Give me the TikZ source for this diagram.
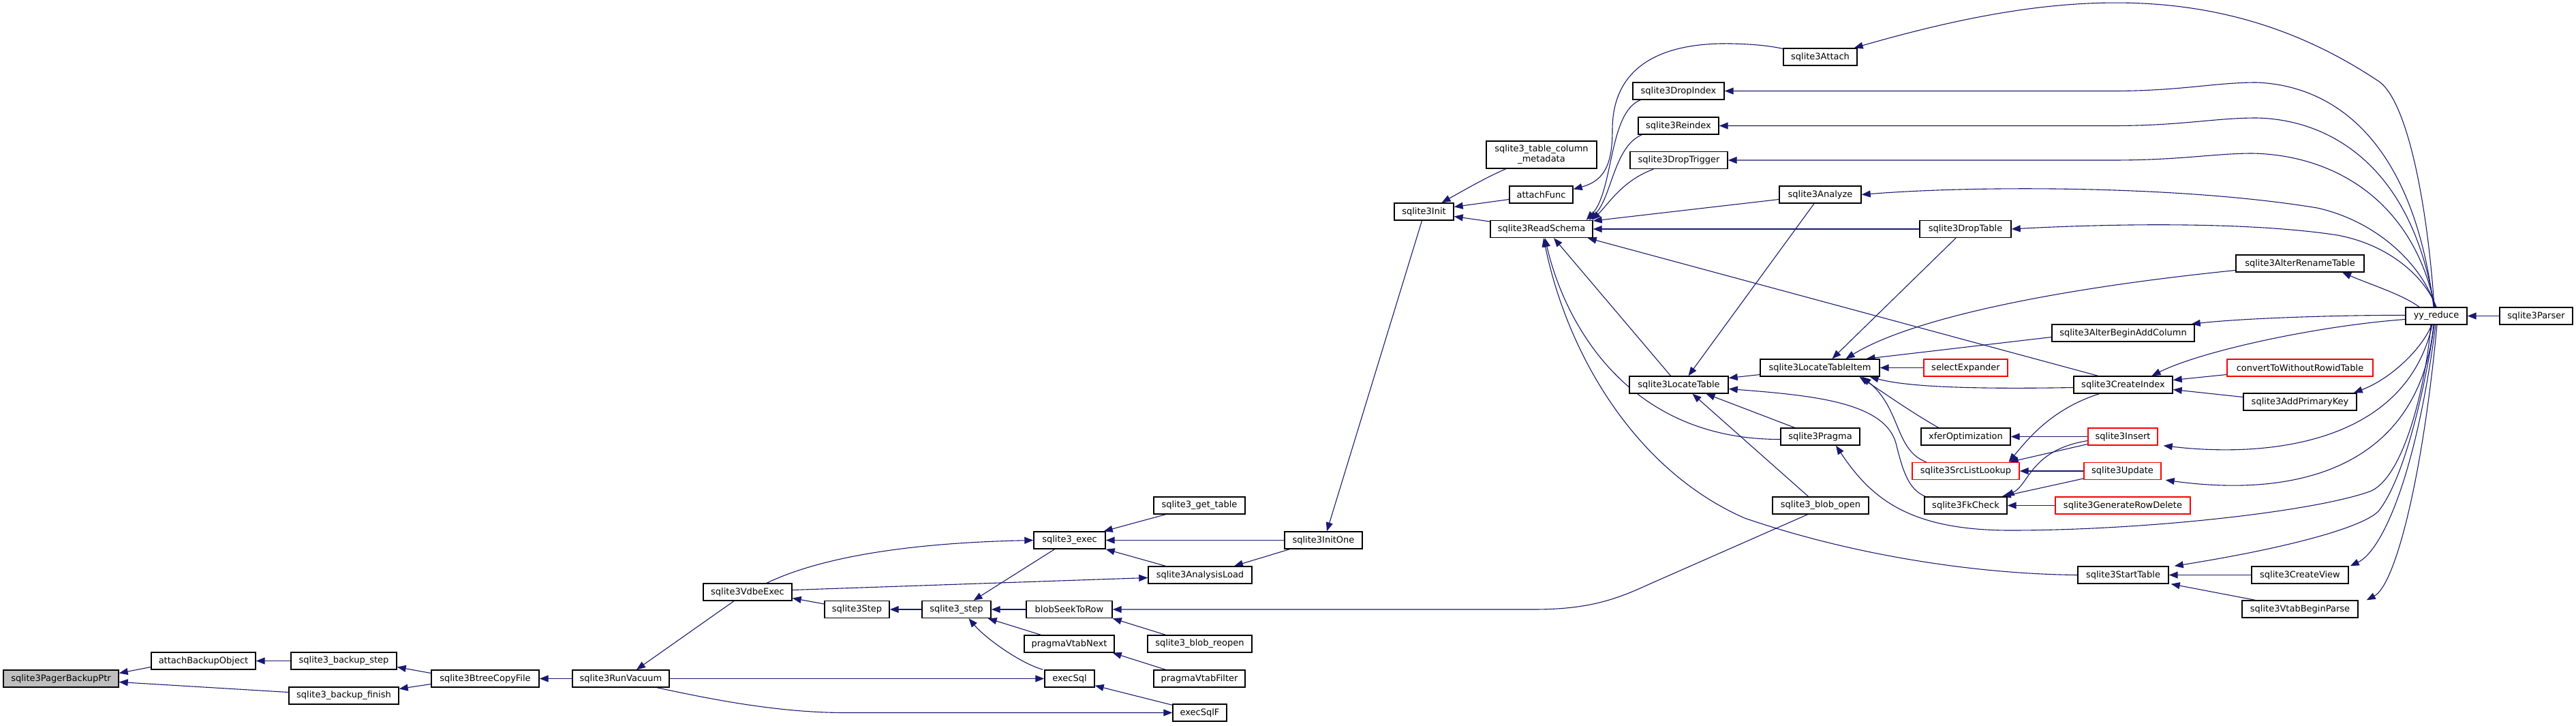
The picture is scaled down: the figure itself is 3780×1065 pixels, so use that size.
\documentclass[tikz,border=0pt]{standalone}
\usepackage{fontspec}
\setmainfont{DejaVu Sans}
\usetikzlibrary{arrows.meta}
\definecolor{edgecol}{HTML}{191970}
\definecolor{redb}{HTML}{FF0000}
\definecolor{grayf}{HTML}{BFBFBF}
\pgfdeclarelayer{bg}
\pgfsetlayers{bg,main}
\tikzset{
  fn/.style={draw=black, fill=white, line width=1.4pt, minimum height=25pt, inner sep=0pt, text=black},
  rn/.style={fn, draw=redb},
  gn/.style={fn, fill=grayf},
  e/.style={draw=edgecol, line width=1.1pt, {Triangle[length=13pt,width=10pt]}-}
}
\begin{document}
\begin{tikzpicture}[x=1pt,y=-1pt,font=\fontsize{13}{15}\selectfont]
\useasboundingbox (0,0) rectangle (3780,1065);
% nodes
\node[gn, minimum width=169pt] (pbp) at (89.5,995.5) {sqlite3PagerBackupPtr};
\node[fn, minimum width=153pt] (abo) at (298.5,969.5) {attachBackupObject};
\node[fn, minimum width=155pt] (bstep) at (504.5,969.5) {sqlite3\_backup\_step};
\node[fn, minimum width=161pt] (bfin) at (504.5,1020.5) {sqlite3\_backup\_finish};
\node[fn, minimum width=158pt] (bcf) at (712,995.5) {sqlite3BtreeCopyFile};
\node[fn, minimum width=142pt] (rv) at (911,995.5) {sqlite3RunVacuum};
\node[fn, minimum width=130pt] (vdbe) at (1097,868.5) {sqlite3VdbeExec};
\node[fn, minimum width=95pt] (step3) at (1257.5,894) {sqlite3Step};
\node[fn, minimum width=101pt] (s3step) at (1403.5,894) {sqlite3\_step};
\node[fn, minimum width=105pt] (exec) at (1569.5,792.5) {sqlite3\_exec};
\node[fn, minimum width=134pt] (gt) at (1760,741.5) {sqlite3\_get\_table};
\node[fn, minimum width=152pt] (al) at (1761,843.5) {sqlite3AnalysisLoad};
\node[fn, minimum width=126pt] (bstr) at (1569,894) {blobSeekToRow};
\node[fn, minimum width=132pt] (pvn) at (1569,944.5) {pragmaVtabNext};
\node[fn, minimum width=153pt] (bro) at (1760.5,944.5) {sqlite3\_blob\_reopen};
\node[fn, minimum width=134pt] (pvf) at (1760,995.5) {pragmaVtabFilter};
\node[fn, minimum width=73pt] (esql) at (1569.5,995.5) {execSql};
\node[fn, minimum width=79pt] (esqlf) at (1760.5,1045.5) {execSqlF};
\node[fn, minimum width=114pt] (initone) at (1942,792.5) {sqlite3InitOne};
\node[fn, minimum width=87pt] (init) at (2089.5,310.5) {sqlite3Init};
\node[fn, minimum width=162pt, minimum height=40pt, align=center] (meta) at (2262,227) {sqlite3\_table\_column\\\_metadata};
\node[fn, minimum width=93pt] (af) at (2261.5,285.5) {attachFunc};
\node[fn, minimum width=150pt] (rs) at (2262,336) {sqlite3ReadSchema};
\node[fn, minimum width=134pt] (di) at (2463,133.5) {sqlite3DropIndex};
\node[fn, minimum width=118pt] (ri) at (2463,184.5) {sqlite3Reindex};
\node[fn, minimum width=143pt] (dtr) at (2463.5,235) {sqlite3DropTrigger};
\node[fn, minimum width=108pt] (att) at (2671,83.5) {sqlite3Attach};
\node[fn, minimum width=120pt] (an) at (2671,285.5) {sqlite3Analyze};
\node[fn, minimum width=134pt] (dt) at (2884,336) {sqlite3DropTable};
\node[fn, minimum width=145pt] (lt) at (2463.5,564.5) {sqlite3LocateTable};
\node[fn, minimum width=175pt] (lti) at (2670.5,539.5) {sqlite3LocateTableItem};
\node[fn, minimum width=209pt] (aba) at (3115.5,488.5) {sqlite3AlterBeginAddColumn};
\node[rn, minimum width=123pt] (se) at (2884.5,539.5) {selectExpander};
\node[fn, minimum width=145pt] (ci) at (3115.5,564.5) {sqlite3CreateIndex};
\node[fn, minimum width=188pt] (art) at (3375,386.5) {sqlite3AlterRenameTable};
\node[rn, minimum width=214pt] (cwr) at (3375,539.5) {convertToWithoutRowidTable};
\node[fn, minimum width=166pt] (apk) at (3375,589.5) {sqlite3AddPrimaryKey};
\node[fn, minimum width=90pt] (yy) at (3575,463.5) {yy\_reduce};
\node[fn, minimum width=107pt] (parser) at (3721.5,463.5) {sqlite3Parser};
\node[fn, minimum width=116pt] (pr) at (2671,640.5) {sqlite3Pragma};
\node[fn, minimum width=131pt] (xo) at (2884.5,640.5) {xferOptimization};
\node[rn, minimum width=102pt] (ins) at (3115,640.5) {sqlite3Insert};
\node[rn, minimum width=157pt] (sll) at (2884.5,691) {sqlite3SrcListLookup};
\node[rn, minimum width=113pt] (upd) at (3114.5,691) {sqlite3Update};
\node[fn, minimum width=141pt] (bo) at (2671.5,741.5) {sqlite3\_blob\_open};
\node[fn, minimum width=121pt] (fk) at (2884.5,741.5) {sqlite3FkCheck};
\node[rn, minimum width=198pt] (grd) at (3115,741.5) {sqlite3GenerateRowDelete};
\node[fn, minimum width=133pt] (st) at (3115.5,843.5) {sqlite3StartTable};
\node[fn, minimum width=142pt] (cv) at (3375,843.5) {sqlite3CreateView};
\node[fn, minimum width=170pt] (vbp) at (3375,893.5) {sqlite3VtabBeginParse};
% edges
\begin{pgfonlayer}{bg}
\draw[e] ([yshift=8]pbp.east) -- ([yshift=-9]abo.west);
\draw[e] ([yshift=-5]pbp.east) -- ([yshift=5]bfin.west);
\draw[e] (abo.east) -- (bstep.west);
\draw[e] ([yshift=-9]bstep.east) -- ([yshift=8]bcf.west);
\draw[e] ([yshift=10]bfin.east) -- ([yshift=-8]bcf.west);
\draw[e] (bcf.east) -- (rv.west);
\draw[e] ([xshift=23]rv.north) -- ([xshift=-20]vdbe.south);
\draw[e] ([yshift=-9]vdbe.east) -- ([yshift=8]step3.west);
\draw[e] (step3.east) -- (s3step.west);
\draw[e] ([xshift=25]s3step.north) -- ([xshift=-22]exec.south);
\draw[e] (s3step.east) -- (bstr.west);
\draw[e] ([xshift=-5]s3step.south east) -- ([xshift=25]pvn.north west);
\draw[e] ([xshift=18]s3step.south) .. controls (1445,935) and (1495,972) .. ([xshift=-2]esql.north west);
\draw[e] (exec.west) .. controls (1400,795) and (1230,805) .. ([xshift=28]vdbe.north);
\draw[e] ([yshift=-4]al.west) -- ([yshift=3]vdbe.east);
\draw[e] (esql.west) -- (rv.east);
\draw[e] (esqlf.west) -- (1240,1045.5) .. controls (1140,1045.5) and (1040,1025) .. ([xshift=53]rv.south);
\draw[e] ([xshift=-3]exec.north east) -- ([xshift=18]gt.south west);
\draw[e] (exec.east) -- (initone.west);
\draw[e] (exec.south east) -- ([xshift=26]al.north west);
\draw[e] ([xshift=50]al.north) -- ([xshift=8]initone.south west);
\draw[e] (bstr.east) -- (2250,894) .. controls (2330,894) and (2370,880) .. (2420,857) -- ([xshift=-19]bo.south);
\draw[e] (bstr.south east) -- ([xshift=27]bro.north west);
\draw[e] ([xshift=-3]pvn.south east) -- ([xshift=18]pvf.north west);
\draw[e] ([yshift=3]esql.south east) -- ([yshift=-2]esqlf.north west);
\draw[e] ([xshift=5]initone.north) -- ([xshift=-3]init.south);
\draw[e] ([xshift=26]init.north) .. controls (2150,278) and (2185,258) .. ([xshift=-52]meta.south);
\draw[e] ([yshift=7]init.east) -- ([yshift=-7]af.west);
\draw[e] ([yshift=-7]init.east) -- ([yshift=11]rs.west);
\draw[e] ([yshift=8]af.east) .. controls (2355,265) and (2366,240) .. (2366,190) .. controls (2366,110) and (2420,62) .. (2540,64) .. controls (2580,65) and (2600,68) .. ([yshift=12]att.west);
\draw[e] ([xshift=-10]rs.north east) .. controls (2368,280) and (2360,165) .. ([xshift=12]di.south west);
\draw[e] ([xshift=-6]rs.north east) .. controls (2365,290) and (2368,215) .. ([xshift=6]ri.south west);
\draw[e] ([xshift=-2]rs.north east) .. controls (2360,300) and (2380,265) .. ([xshift=35]dtr.south west);
\draw[e] ([yshift=12]rs.east) -- ([yshift=-7]an.west);
\draw[e] (rs.east) -- (dt.west);
\draw[e] ([xshift=-8]rs.south east) -- ([xshift=-37]ci.north);
\draw[e] ([xshift=18]rs.south) -- ([xshift=-12]lt.north);
\draw[e] ([xshift=5]rs.south) .. controls (2295,470) and (2385,645) .. ([yshift=-4]pr.west);
\draw[e] ([xshift=3]rs.south) .. controls (2300,520) and (2400,690) .. (2560,760) .. controls (2720,815) and (2900,842) .. (st.west);
\draw[e] ([yshift=10]lt.east) -- ([yshift=-10]lti.west);
\draw[e] ([xshift=14]lt.north) -- ([xshift=-9]an.south);
\draw[e] ([xshift=40]lt.south) -- ([xshift=21]pr.north west);
\draw[e] ([xshift=20]lt.south) -- ([xshift=-18]bo.north);
\draw[e] ([yshift=-6]lt.east) .. controls (2660,580) and (2765,590) .. (2782,650) .. controls (2792,690) and (2800,718) .. ([xshift=2]fk.north west);
\draw[e] ([xshift=18]lti.north) -- ([xshift=-14]dt.south);
\draw[e] ([xshift=38]lti.north) .. controls (2800,470) and (3000,425) .. ([yshift=-10]art.west);
\draw[e] ([xshift=68]lti.north) -- ([yshift=-6]aba.west);
\draw[e] (lti.east) -- (se.west);
\draw[e] ([xshift=-15]lti.south east) .. controls (2800,568) and (2900,571) .. ([yshift=-4]ci.west);
\draw[e] ([xshift=58]lti.south) .. controls (2770,580) and (2805,605) .. ([xshift=-40]xo.north);
\draw[e] ([xshift=62]lti.south) .. controls (2790,600) and (2780,660) .. ([xshift=-58]sll.north);
\draw[e] ([yshift=7]ci.east) -- ([yshift=-10]cwr.west);
\draw[e] ([yshift=-7]ci.east) -- ([yshift=7]apk.west);
\draw[e] ([xshift=42]ci.north) .. controls (3230,515) and (3400,478) .. ([yshift=-5]yy.west);
\draw[e] ([xshift=63]sll.north) .. controls (2975,645) and (3010,600) .. ([xshift=-35]ci.south);
\draw[e] ([xshift=-15]sll.north east) -- ([yshift=-11]ins.west);
\draw[e] (sll.east) -- (upd.west);
\draw[e] (xo.east) -- (ins.west);
\draw[e] ([xshift=-3]fk.north east) .. controls (2978,710) and (2980,660) .. ([yshift=-6]ins.west);
\draw[e] ([xshift=-8]fk.north east) -- ([yshift=-11]upd.west);
\draw[e] (fk.east) -- (grd.west);
\draw[e] ([xshift=8]ins.south east) .. controls (3330,672) and (3530,650) .. ([xshift=-6]yy.south);
\draw[e] ([xshift=6]upd.south east) .. controls (3380,732) and (3550,680) .. ([xshift=-4]yy.south);
\draw[e] ([xshift=23]pr.south) .. controls (2745,730) and (2800,778) .. (2950,778) .. controls (3150,778) and (3400,750) .. (3480,720) .. controls (3530,695) and (3560,560) .. ([xshift=-8]yy.south);
\draw[e] ([xshift=-5]aba.north east) .. controls (3300,466) and (3450,462) .. ([yshift=1]yy.west);
\draw[e] ([xshift=62]art.south) .. controls (3480,418) and (3525,432) .. ([xshift=-25]yy.north);
\draw[e] ([xshift=-5]apk.north east) .. controls (3510,555) and (3555,510) .. ([xshift=-7]yy.south);
\draw[e] ([xshift=8]st.north east) .. controls (3350,805) and (3465,775) .. (3490,750) .. controls (3530,700) and (3560,560) .. ([xshift=-3]yy.south);
\draw[e] (st.east) -- (cv.west);
\draw[e] ([xshift=3]st.south east) -- ([xshift=20]vbp.north west);
\draw[e] ([xshift=2]cv.north east) .. controls (3495,808) and (3545,700) .. ([xshift=-1]yy.south);
\draw[e] ([xshift=12]vbp.north east) .. controls (3515,858) and (3555,700) .. ([xshift=1]yy.south);
\draw[e] (yy.east) -- (parser.west);
\draw[e] ([xshift=-5]att.north east) .. controls (3000,-10) and (3250,-40) .. (3487,117) .. controls (3532,141) and (3562,300) .. ([xshift=-3]yy.north);
\draw[e] (di.east) -- (3100,133.5) .. controls (3200,133.5) and (3250,121) .. (3311,121) .. controls (3420,125) and (3540,200) .. ([xshift=-4]yy.north);
\draw[e] (ri.east) -- (3100,184.5) .. controls (3200,184.5) and (3250,173) .. (3311,173) .. controls (3420,175) and (3540,245) .. ([xshift=-3]yy.north);
\draw[e] (dtr.east) -- (3100,235) .. controls (3200,235) and (3250,225) .. (3305,225) .. controls (3420,227) and (3540,290) .. ([xshift=-2]yy.north);
\draw[e] (an.east) .. controls (2900,272) and (3200,272) .. (3400,305) .. controls (3490,325) and (3555,390) .. ([xshift=-1]yy.north);
\draw[e] (dt.east) .. controls (3100,328) and (3300,325) .. (3430,345) .. controls (3510,360) and (3560,410) .. (yy.north);
\end{pgfonlayer}
\end{tikzpicture}
\end{document}
